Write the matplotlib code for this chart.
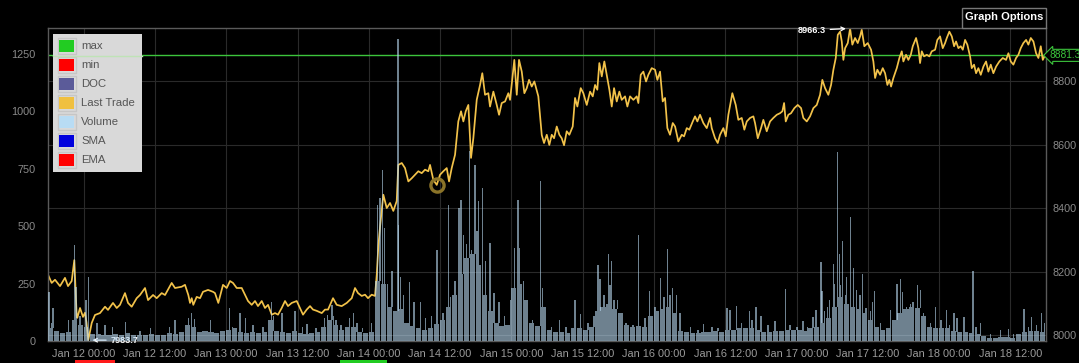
import matplotlib
matplotlib.use("Agg")
import matplotlib.pyplot as plt
import matplotlib.dates as mdates
from matplotlib.patches import Rectangle
from datetime import datetime, timedelta

plt.rcParams['font.family'] = ['Liberation Sans', 'DejaVu Sans']

START = datetime(2018, 1, 11, 18, 0)

# Last trade price: (hours since Jan 11 18:00, price)
price_points = [
    (0, 8190), (0.62, 8164), (1.18, 8174), (2.02, 8154), (2.86, 8180), (3.37, 8154), (3.99, 8170),
    (4.43, 8236), (4.83, 8060), (4.93, 8054), (5.39, 8085), (5.89, 8057), (6.23, 8070), (6.48, 8040),
    (6.78, 7983.7), (7.36, 8038), (7.91, 8063), (8.75, 8069), (9.6, 8089), (10.1, 8079), (10.94, 8101),
    (11.57, 8085), (12.12, 8095), (12.96, 8132), (13.47, 8101), (14.09, 8089), (14.93, 8116), (15.49, 8126),
    (16.33, 8148), (16.84, 8110), (17.68, 8126), (18.3, 8116), (19.14, 8132), (19.7, 8126), (20.82, 8164),
    (21.38, 8148), (22.5, 8152), (23.06, 8158), (23.62, 8126), (23.91, 8101), (24.19, 8116), (24.46, 8095),
    (25.03, 8120), (25.59, 8116), (26.09, 8136), (26.94, 8142), (27.78, 8136), (28.11, 8132), (28.67, 8101),
    (29.46, 8158), (30.08, 8148), (30.64, 8170), (31.14, 8164), (31.77, 8148), (32.61, 8148), (33.16, 8127),
    (33.67, 8107), (34.29, 8095), (34.85, 8107), (35.35, 8091), (35.98, 8107), (36.53, 8085), (37.04, 8095),
    (37.66, 8064), (38.22, 8069), (38.72, 8064), (39.34, 8085), (39.9, 8107), (40.4, 8091), (41.03, 8101),
    (41.87, 8107), (42.42, 8085), (42.93, 8064), (43.55, 8080), (44.11, 8091), (44.61, 8080), (45.24, 8076),
    (46.08, 8069), (46.63, 8080), (47.14, 8080), (47.98, 8116), (48.6, 8095), (49.44, 8091), (50.29, 8101),
    (51.13, 8116), (51.68, 8148), (52.19, 8132), (52.81, 8123), (53.37, 8127), (53.87, 8116), (54.49, 8127),
    (55.05, 8123), (55.34, 8190), (55.61, 8280), (55.89, 8340), (56.45, 8442), (57.02, 8400), (57.58, 8416),
    (58.13, 8391), (58.7, 8422), (58.97, 8536), (59.55, 8542), (60.1, 8526), (60.66, 8484), (61.23, 8494),
    (61.78, 8505), (62.34, 8516), (62.91, 8510), (63.47, 8521), (64.02, 8516), (64.31, 8536), (64.86, 8489),
    (65.44, 8473), (65.99, 8505), (66.55, 8516), (67.12, 8526), (67.51, 8484), (67.96, 8526), (68.52, 8568),
    (69.07, 8673), (69.53, 8705), (69.92, 8673), (70.32, 8705), (70.76, 8725), (71.21, 8558), (71.6, 8620),
    (72.17, 8741), (72.73, 8788), (73.11, 8825), (73.57, 8757), (74.12, 8762), (74.41, 8720), (74.97, 8767),
    (75.54, 8725), (75.93, 8694), (76.38, 8731), (76.94, 8736), (77.49, 8762), (77.78, 8741), (78.17, 8810),
    (78.5, 8867), (78.91, 8757), (79.29, 8867), (79.75, 8830), (80.19, 8762), (80.59, 8778), (80.98, 8804),
    (81.43, 8783), (81.87, 8799), (82.54, 8752), (83.12, 8630), (83.5, 8605), (83.96, 8631), (84.39, 8599),
    (84.8, 8631), (85.19, 8620), (85.64, 8657), (86.08, 8631), (86.48, 8620), (86.87, 8598), (87.32, 8642),
    (87.76, 8631), (88.33, 8657), (88.72, 8747), (89.11, 8720), (89.68, 8778), (90.12, 8762), (90.69, 8725),
    (91.25, 8767), (91.7, 8752), (92.09, 8788), (92.47, 8773), (92.81, 8857), (93.22, 8815), (93.65, 8862),
    (94.06, 8820), (94.5, 8773), (94.9, 8720), (95.29, 8778), (95.74, 8736), (96.18, 8767), (96.58, 8741),
    (97.14, 8752), (97.53, 8720), (97.98, 8752), (98.54, 8741), (99.11, 8752), (99.38, 8731), (99.78, 8820),
    (100.22, 8830), (100.67, 8799), (101.06, 8820), (101.63, 8841), (102.19, 8836), (102.58, 8804),
    (103.03, 8830), (103.48, 8736), (103.87, 8747), (104.26, 8652), (104.71, 8631), (105.17, 8668),
    (105.56, 8657), (106.11, 8610), (106.68, 8631), (107.07, 8626), (107.53, 8652), (107.96, 8647),
    (108.54, 8673), (108.92, 8689), (109.31, 8673), (109.76, 8694), (110.32, 8668), (110.89, 8652),
    (111.45, 8684), (111.73, 8652), (112.29, 8620), (112.74, 8605), (113.13, 8631), (113.69, 8652),
    (114.09, 8626), (114.53, 8694), (115.2, 8762), (115.77, 8725), (116.21, 8678), (116.78, 8684),
    (117.22, 8647), (117.63, 8673), (118.18, 8684), (118.74, 8689), (119.02, 8668), (119.48, 8620),
    (120.03, 8652), (120.42, 8678), (120.99, 8642), (121.55, 8673), (122.1, 8684), (122.68, 8694),
    (123.23, 8699), (123.62, 8705), (123.91, 8731), (124.19, 8673), (124.63, 8694), (125.08, 8699),
    (125.64, 8715), (126.21, 8725), (126.77, 8715), (127.15, 8684), (127.73, 8673), (128.28, 8689),
    (128.84, 8715), (129.41, 8725), (129.97, 8757), (130.35, 8804), (130.81, 8778), (131.36, 8757),
    (131.82, 8788), (132.21, 8836), (132.61, 8873), (132.95, 8946), (133.33, 8956), (133.62, 8925),
    (133.89, 8867), (134.18, 8904), (134.63, 8920), (135.02, 8966.3), (135.4, 8915), (135.86, 8936),
    (136.31, 8920), (136.7, 8941), (136.98, 8962), (137.42, 8910), (137.99, 8920), (138.55, 8899),
    (138.94, 8862), (139.23, 8810), (139.61, 8836), (140.07, 8820), (140.52, 8841), (140.91, 8825),
    (141.3, 8788), (141.63, 8804), (141.92, 8783), (142.31, 8810), (142.88, 8841), (143.32, 8873),
    (143.72, 8894), (143.99, 8862), (144.44, 8883), (144.83, 8867), (145.24, 8883), (145.57, 8910),
    (146.13, 8936), (146.52, 8904), (146.8, 8857), (147.09, 8894), (147.47, 8878), (147.93, 8883),
    (148.37, 8878), (148.77, 8894), (149.33, 8899), (149.71, 8930), (150.17, 8941), (150.62, 8904),
    (151.01, 8920), (151.3, 8936), (151.73, 8956), (152.14, 8941), (152.53, 8910), (152.86, 8925),
    (153.25, 8904), (153.65, 8910), (153.99, 8899), (154.38, 8930), (154.76, 8915), (155.22, 8878),
    (155.5, 8841), (155.89, 8852), (156.23, 8825), (156.62, 8841), (157.02, 8820), (157.46, 8846),
    (157.91, 8862), (158.3, 8830), (158.7, 8852), (159.14, 8825), (159.6, 8846), (160.15, 8862),
    (160.72, 8873), (161.28, 8867), (161.67, 8888), (162.07, 8862), (162.51, 8852), (162.96, 8873),
    (163.35, 8883), (163.75, 8904), (164.19, 8920), (164.65, 8930), (165.03, 8915), (165.44, 8936),
    (165.88, 8925), (166.33, 8888), (166.72, 8873), (167.12, 8910), (167.46, 8867), (167.85, 8883),
    (168, 8881.3),
]

# Hourly volume background level (one value per hour from Jan 11 18:00)
volume_hourly = [
    55, 45, 35, 40, 90, 70, 60, 30, 30, 25, 25, 30,
    25, 35, 25, 25, 25, 30, 25, 25, 35, 30, 40, 70,
    60, 40, 45, 40, 35, 45, 50, 55, 40, 35, 40, 35,
    40, 90, 45, 40, 35, 45, 35, 30, 35, 40, 60, 90,
    70, 50, 60, 60, 40, 35, 40, 260, 250, 150, 130, 140,
    80, 65, 55, 50, 55, 75, 90, 150, 200, 290, 360, 380,
    330, 200, 130, 80, 65, 70, 230, 250, 180, 80, 65, 150,
    50, 40, 38, 35, 55, 55, 50, 60, 130, 150, 160, 140,
    120, 70, 60, 65, 60, 110, 130, 140, 150, 120, 45, 38,
    35, 35, 40, 40, 45, 40, 50, 48, 55, 55, 55, 50,
    40, 40, 42, 45, 48, 48, 50, 45, 55, 62, 80, 100,
    150, 190, 160, 150, 140, 120, 90, 60, 50, 55, 90, 120,
    140, 150, 145, 110, 60, 58, 55, 55, 45, 40, 38, 35,
    30, 20, 15, 15, 18, 18, 15, 30, 40, 42, 45, 40,
]

# Individual volume spikes: (hours since Jan 11 18:00, volume)
volume_spikes = [
    (0.17, 215), (0.6, 80), (0.85, 143), (3.5, 91), (4.46, 418), (4.7, 235), (5.4, 110), (6.4, 178),
    (6.8, 280), (8.25, 78), (9.6, 70), (10.9, 62), (13.1, 84), (15.5, 45), (17.2, 55), (20.5, 61),
    (21.4, 91), (23.6, 100), (24.2, 122), (24.7, 95), (27.3, 91), (30.6, 143), (31.1, 60), (32.3, 122),
    (33.2, 100), (34.5, 70), (36.2, 60), (37.6, 170), (38.0, 110), (39.4, 122), (41.6, 130), (42.8, 60),
    (43.6, 75), (45.1, 55), (46.6, 100), (47.0, 114), (47.8, 158), (48.1, 110), (48.5, 90), (49.3, 70),
    (50.8, 100), (51.4, 122), (52.0, 80), (52.9, 55), (54.4, 80), (55.5, 593), (55.9, 622), (56.3, 745),
    (56.7, 491), (57.2, 250), (57.9, 303), (58.9, 1311), (59.06, 505), (59.3, 280), (59.9, 200),
    (60.8, 258), (61.6, 171), (62.7, 171), (63.6, 100), (64.5, 110), (65.5, 396), (66.5, 122),
    (67.4, 593), (67.7, 191), (68.5, 260), (69.2, 577), (69.5, 614), (69.9, 462), (70.4, 420),
    (70.9, 825), (71.3, 397), (71.9, 767), (72.2, 480), (72.5, 608), (73.1, 665), (73.7, 350),
    (74.4, 426), (75.1, 207), (75.9, 171), (76.9, 110), (77.9, 180), (78.5, 403), (79.1, 614),
    (79.4, 405), (79.7, 215), (80.1, 260), (80.9, 135), (81.6, 90), (82.9, 695), (83.3, 230),
    (83.7, 130), (84.8, 60), (86.1, 92), (87.2, 60), (88.7, 179), (89.6, 116), (90.9, 80), (91.9, 110),
    (92.6, 332), (92.9, 270), (93.6, 200), (94.3, 379), (94.6, 245), (94.9, 347), (95.3, 180),
    (95.9, 179), (96.6, 110), (97.3, 80), (98.5, 70), (99.4, 462), (100.5, 100), (101.3, 216),
    (102.2, 150), (103.1, 274), (103.7, 190), (104.3, 402), (104.7, 200), (105.1, 230), (105.8, 201),
    (106.4, 120), (108.1, 60), (109.4, 50), (110.3, 72), (111.8, 60), (112.8, 55), (114.3, 142),
    (114.8, 135), (115.9, 152), (116.7, 80), (118.1, 132), (118.5, 90), (119.2, 146), (120.0, 110),
    (121.2, 70), (122.4, 85), (124.1, 225), (124.9, 70), (126.1, 60), (127.1, 85), (127.9, 60),
    (128.8, 105), (129.3, 135), (130.1, 345), (130.3, 216), (130.7, 130), (131.2, 150), (131.6, 180),
    (132.2, 335), (132.4, 250), (132.9, 822), (133.2, 377), (133.4, 245), (133.8, 434), (134.2, 200),
    (134.4, 280), (135.1, 538), (135.6, 316), (136.1, 221), (136.7, 200), (137.1, 290), (137.7, 142),
    (138.4, 130), (138.8, 171), (139.1, 217), (140.1, 80), (141.8, 135), (142.9, 250), (143.5, 268),
    (143.8, 215), (144.5, 150), (145.2, 160), (145.6, 171), (146.4, 245), (146.9, 222), (147.4, 120),
    (148.5, 80), (149.4, 149), (150.3, 90), (151.2, 135), (151.8, 70), (152.5, 120), (153.0, 100),
    (154.2, 106), (155.7, 306), (156.2, 60), (157.0, 77), (158.6, 30), (160.3, 48), (161.7, 52),
    (162.5, 30), (164.3, 138), (165.0, 60), (165.6, 106), (166.4, 70), (167.3, 123), (167.7, 80),
]

xtick_hours = [6 + 12 * k for k in range(14)]
xtick_labels = ["Jan 12 00:00", "Jan 12 12:00", "Jan 13 00:00", "Jan 13 12:00", "Jan 14 00:00",
                "Jan 14 12:00", "Jan 15 00:00", "Jan 15 12:00", "Jan 16 00:00", "Jan 16 12:00",
                "Jan 17 00:00", "Jan 17 12:00", "Jan 18 00:00", "Jan 18 12:00"]
volume_ticks = [0, 250, 500, 750, 1000, 1250]
price_ticks = [8000, 8200, 8400, 8600, 8800]
last_price = 8881.3
marker_point = (65.44, 8473)

legend_names = ["max", "min", "DOC", "Last Trade", "Volume", "SMA", "EMA"]
legend_colors = ["#22cc22", "#ff0000", "#5b5b99", "#f0c040", "#b8dcf4", "#0000dd", "#ff0000"]


def t(h):
    return mdates.date2num(START + timedelta(hours=h))


W, H = 1079, 363
fig = plt.figure(figsize=(W / 100, H / 100), dpi=100, facecolor="black")
L, R, T, B = 48, 1046, 28, 341
ax = fig.add_axes([L / W, (H - B) / H, (R - L) / W, (B - T) / H])
ax.set_facecolor("black")

ph = [p[0] for p in price_points]
pv = [p[1] for p in price_points]
ax.plot([t(h) for h in ph], pv, color="#f2c24a", lw=1.25, zorder=2)
ax.axhline(last_price, color="#3cc43c", lw=1.0, zorder=1.5)
ax.plot([t(marker_point[0])], [marker_point[1]], marker="o", ms=9.5, mfc="none",
        mec="#8a7328", mew=2.4, zorder=3)

ax.set_xlim(t(0), t(168))
ax.set_ylim(7981, 8967.5)
ax.set_xticks([t(h) for h in xtick_hours])
ax.set_xticklabels(xtick_labels)
ax.grid(True, color="#2a2a2a", lw=0.8)
ax.set_axisbelow(True)
for s in ax.spines.values():
    s.set_color("#5a5a5a")
    s.set_linewidth(1.0)

# volume on twin axis, drawn over the price line
axv = ax.twinx()
axv.set_ylim(0, 1361)
for s in axv.spines.values():
    s.set_visible(False)

# axis sides: price on the right, volume on the left
ax.yaxis.tick_right()
ax.set_yticks(price_ticks)
ax.tick_params(axis="y", which="both", left=False, labelleft=False, right=False, labelright=True,
               colors="#8a8a8a", labelsize=7.8, length=0, pad=5)
ax.tick_params(axis="x", colors="#9a9a9a", labelsize=7.9, length=0, pad=6)
axv.yaxis.tick_left()
axv.set_yticks(volume_ticks)
axv.tick_params(axis="y", which="both", right=False, labelright=False, left=False, labelleft=True,
                colors="#8a8a8a", labelsize=7.8, length=0, pad=9)

vol_color = "#b8d8f0"
axv.bar([t(h) for h in range(len(volume_hourly))], volume_hourly, width=0.86 / 24, align="edge",
        color=vol_color, alpha=0.6, linewidth=0, zorder=2)
sp_x = [t(s[0]) for s in volume_spikes]
sp_bottom = [volume_hourly[min(int(s[0]), len(volume_hourly) - 1)] for s in volume_spikes]
sp_h = [max(s[1] - b, 0) for s, b in zip(volume_spikes, sp_bottom)]
axv.bar(sp_x, sp_h, bottom=sp_bottom, width=0.22 / 24, align="center",
        color=vol_color, alpha=0.6, linewidth=0, zorder=2)

# min / max annotations
imin = pv.index(min(pv))
imax = pv.index(max(pv))
ax.annotate(f"{pv[imin]:.1f}", xy=(t(ph[imin]), pv[imin]), xytext=(22, 0), textcoords="offset pixels",
            ha="left", va="center", color="white", fontsize=6.6, fontweight="bold",
            arrowprops=dict(arrowstyle="->", color="white", lw=0.9, shrinkA=1, shrinkB=3),
            annotation_clip=False, zorder=6)
ax.annotate(f"{pv[imax]:.1f}", xy=(t(ph[imax]), pv[imax]), xytext=(-24, -2), textcoords="offset pixels",
            ha="right", va="center", color="white", fontsize=6.6, fontweight="bold",
            arrowprops=dict(arrowstyle="->", color="white", lw=0.9, shrinkA=1, shrinkB=3),
            annotation_clip=False, zorder=6)

# last-price tag on the right
ax.annotate(f"{last_price:.1f}", xy=(1.0, last_price), xycoords=("axes fraction", "data"),
            xytext=(4, 0), textcoords="offset pixels", ha="left", va="center",
            color="#3cc43c", fontsize=7.4,
            bbox=dict(boxstyle="larrow,pad=0.1", fc="black", ec="#3cc43c", lw=0.8),
            annotation_clip=False, zorder=7)

# overlay in pixel coordinates for the chrome around the chart
ov = fig.add_axes([0, 0, 1, 1], zorder=10)
ov.set_xlim(0, W)
ov.set_ylim(H, 0)
ov.axis("off")
ov.patch.set_visible(False)

ov.add_patch(Rectangle((53, 34), 89, 138, fc="#d9d9d9", ec="none"))
ov.plot([53, 142], [55.5, 55.5], color="#bfe3b6", lw=1.0)
for i, (name, col) in enumerate(zip(legend_names, legend_colors)):
    yc = 46.2 + 19 * i
    ov.add_patch(Rectangle((57.5, yc - 7.8), 18.5, 15.6, fc="none", ec="#c6c6c6", lw=1.0))
    ov.add_patch(Rectangle((59, yc - 5.9), 15.3, 11.8, fc=col, ec="none"))
    ov.text(81, yc, name, ha="left", va="center", color="#555555", fontsize=8.2)

ov.add_patch(Rectangle((962, 8), 84, 20, fc="black", ec="#777777", lw=1.0))
ov.text(1004, 17.5, "Graph Options", ha="center", va="center", color="white",
        fontsize=8, fontweight="bold")

ov.add_patch(Rectangle((75, 360), 40, 3, fc="#ff1a1a", ec="none"))
ov.add_patch(Rectangle((340, 360), 47, 3, fc="#22cc22", ec="none"))

fig.savefig("out.png", dpi=100, facecolor="black")
